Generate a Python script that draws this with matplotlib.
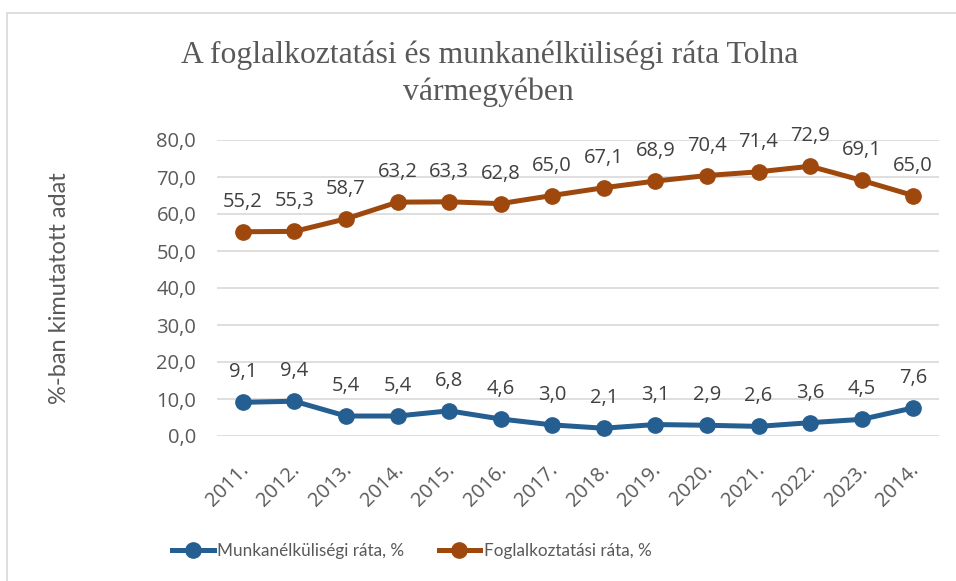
import matplotlib.pyplot as plt
from matplotlib.patches import Rectangle
from matplotlib.transforms import ScaledTranslation

# Chart data
years = ["2011.", "2012.", "2013.", "2014.", "2015.", "2016.", "2017.",
         "2018.", "2019.", "2020.", "2021.", "2022.", "2023.", "2014."]
unemployment = [9.1, 9.4, 5.4, 5.4, 6.8, 4.6, 3.0, 2.1, 3.1, 2.9, 2.6, 3.6, 4.5, 7.6]
employment = [55.2, 55.3, 58.7, 63.2, 63.3, 62.8, 65.0, 67.1, 68.9, 70.4, 71.4, 72.9, 69.1, 65.0]

blue = "#255E91"
orange = "#9E480E"
text_col = "#595959"
font = ["Open Sans", "DejaVu Sans"]
narrow = ["Lato", "DejaVu Sans"]

W, H = 956, 581
fig = plt.figure(figsize=(W / 100, H / 100), dpi=100)
ax = fig.add_axes([217 / W, 1 - 436 / H, 722 / W, 296 / H])

# outer chart border
fig.patches.append(Rectangle((7 / W, -0.01), 1, 1 - 13 / H + 0.01, transform=fig.transFigure,
                             fill=False, edgecolor="#D9D9D9", linewidth=1.2))

x = list(range(len(years)))
ax.plot(x, unemployment, color=blue, lw=3.6, marker="o", ms=11, label="Munkanélküliségi ráta, %")
ax.plot(x, employment, color=orange, lw=3.6, marker="o", ms=11, label="Foglalkoztatási ráta, %")

# data labels
for series in (unemployment, employment):
    for xi, v in zip(x, series):
        ax.annotate(f"{v:.1f}".replace(".", ","), (xi, v), xytext=(0, 18), textcoords="offset points",
                    ha="center", va="baseline", fontsize=14.5, color="#404040", family=font)

ax.set_xlim(-0.5, len(years) - 0.5)
ax.set_ylim(0, 80)
ax.set_yticks(range(0, 81, 10))
ax.set_yticklabels([f"{t:.1f}".replace(".", ",") for t in range(0, 81, 10)],
                   fontsize=14.5, color=text_col, family=font)
ax.set_xticks(x)
ax.set_xticklabels(years, rotation=45, ha="right", va="center", rotation_mode="anchor",
                   fontsize=14.5, color=text_col, family=font)
ax.tick_params(axis="y", length=0, pad=15)
ax.tick_params(axis="x", length=0, pad=22)
shift = ScaledTranslation(3 / 100, 0, fig.dpi_scale_trans)
for lab in ax.get_xticklabels():
    lab.set_transform(lab.get_transform() + shift)
ax.grid(axis="y", color="#D9D9D9", lw=1.2)
ax.set_axisbelow(True)
for s in ax.spines.values():
    s.set_visible(False)

fig.text(59 / W, 1 - 288 / H, "%-ban kimutatott adat", rotation=90, ha="center", va="center",
         fontsize=17, color=text_col, family=narrow)

fig.text(490 / W, 1 - 55 / H, "A foglalkoztatási és munkanélküliségi ráta Tolna",
         ha="center", va="center", fontsize=22.8, color=text_col, family="Liberation Serif")
fig.text(488 / W, 1 - 92 / H, "vármegyében",
         ha="center", va="center", fontsize=22.8, color=text_col, family="Liberation Serif")

fig.legend(loc="center left", bbox_to_anchor=(172 / W, 1 - 551 / H), ncol=2, frameon=False,
           prop={"family": narrow, "size": 12.3}, labelcolor=text_col, handlelength=2.45,
           columnspacing=2.0, handletextpad=0.2, borderpad=0, borderaxespad=0)

plt.savefig("out.png", dpi=100)
